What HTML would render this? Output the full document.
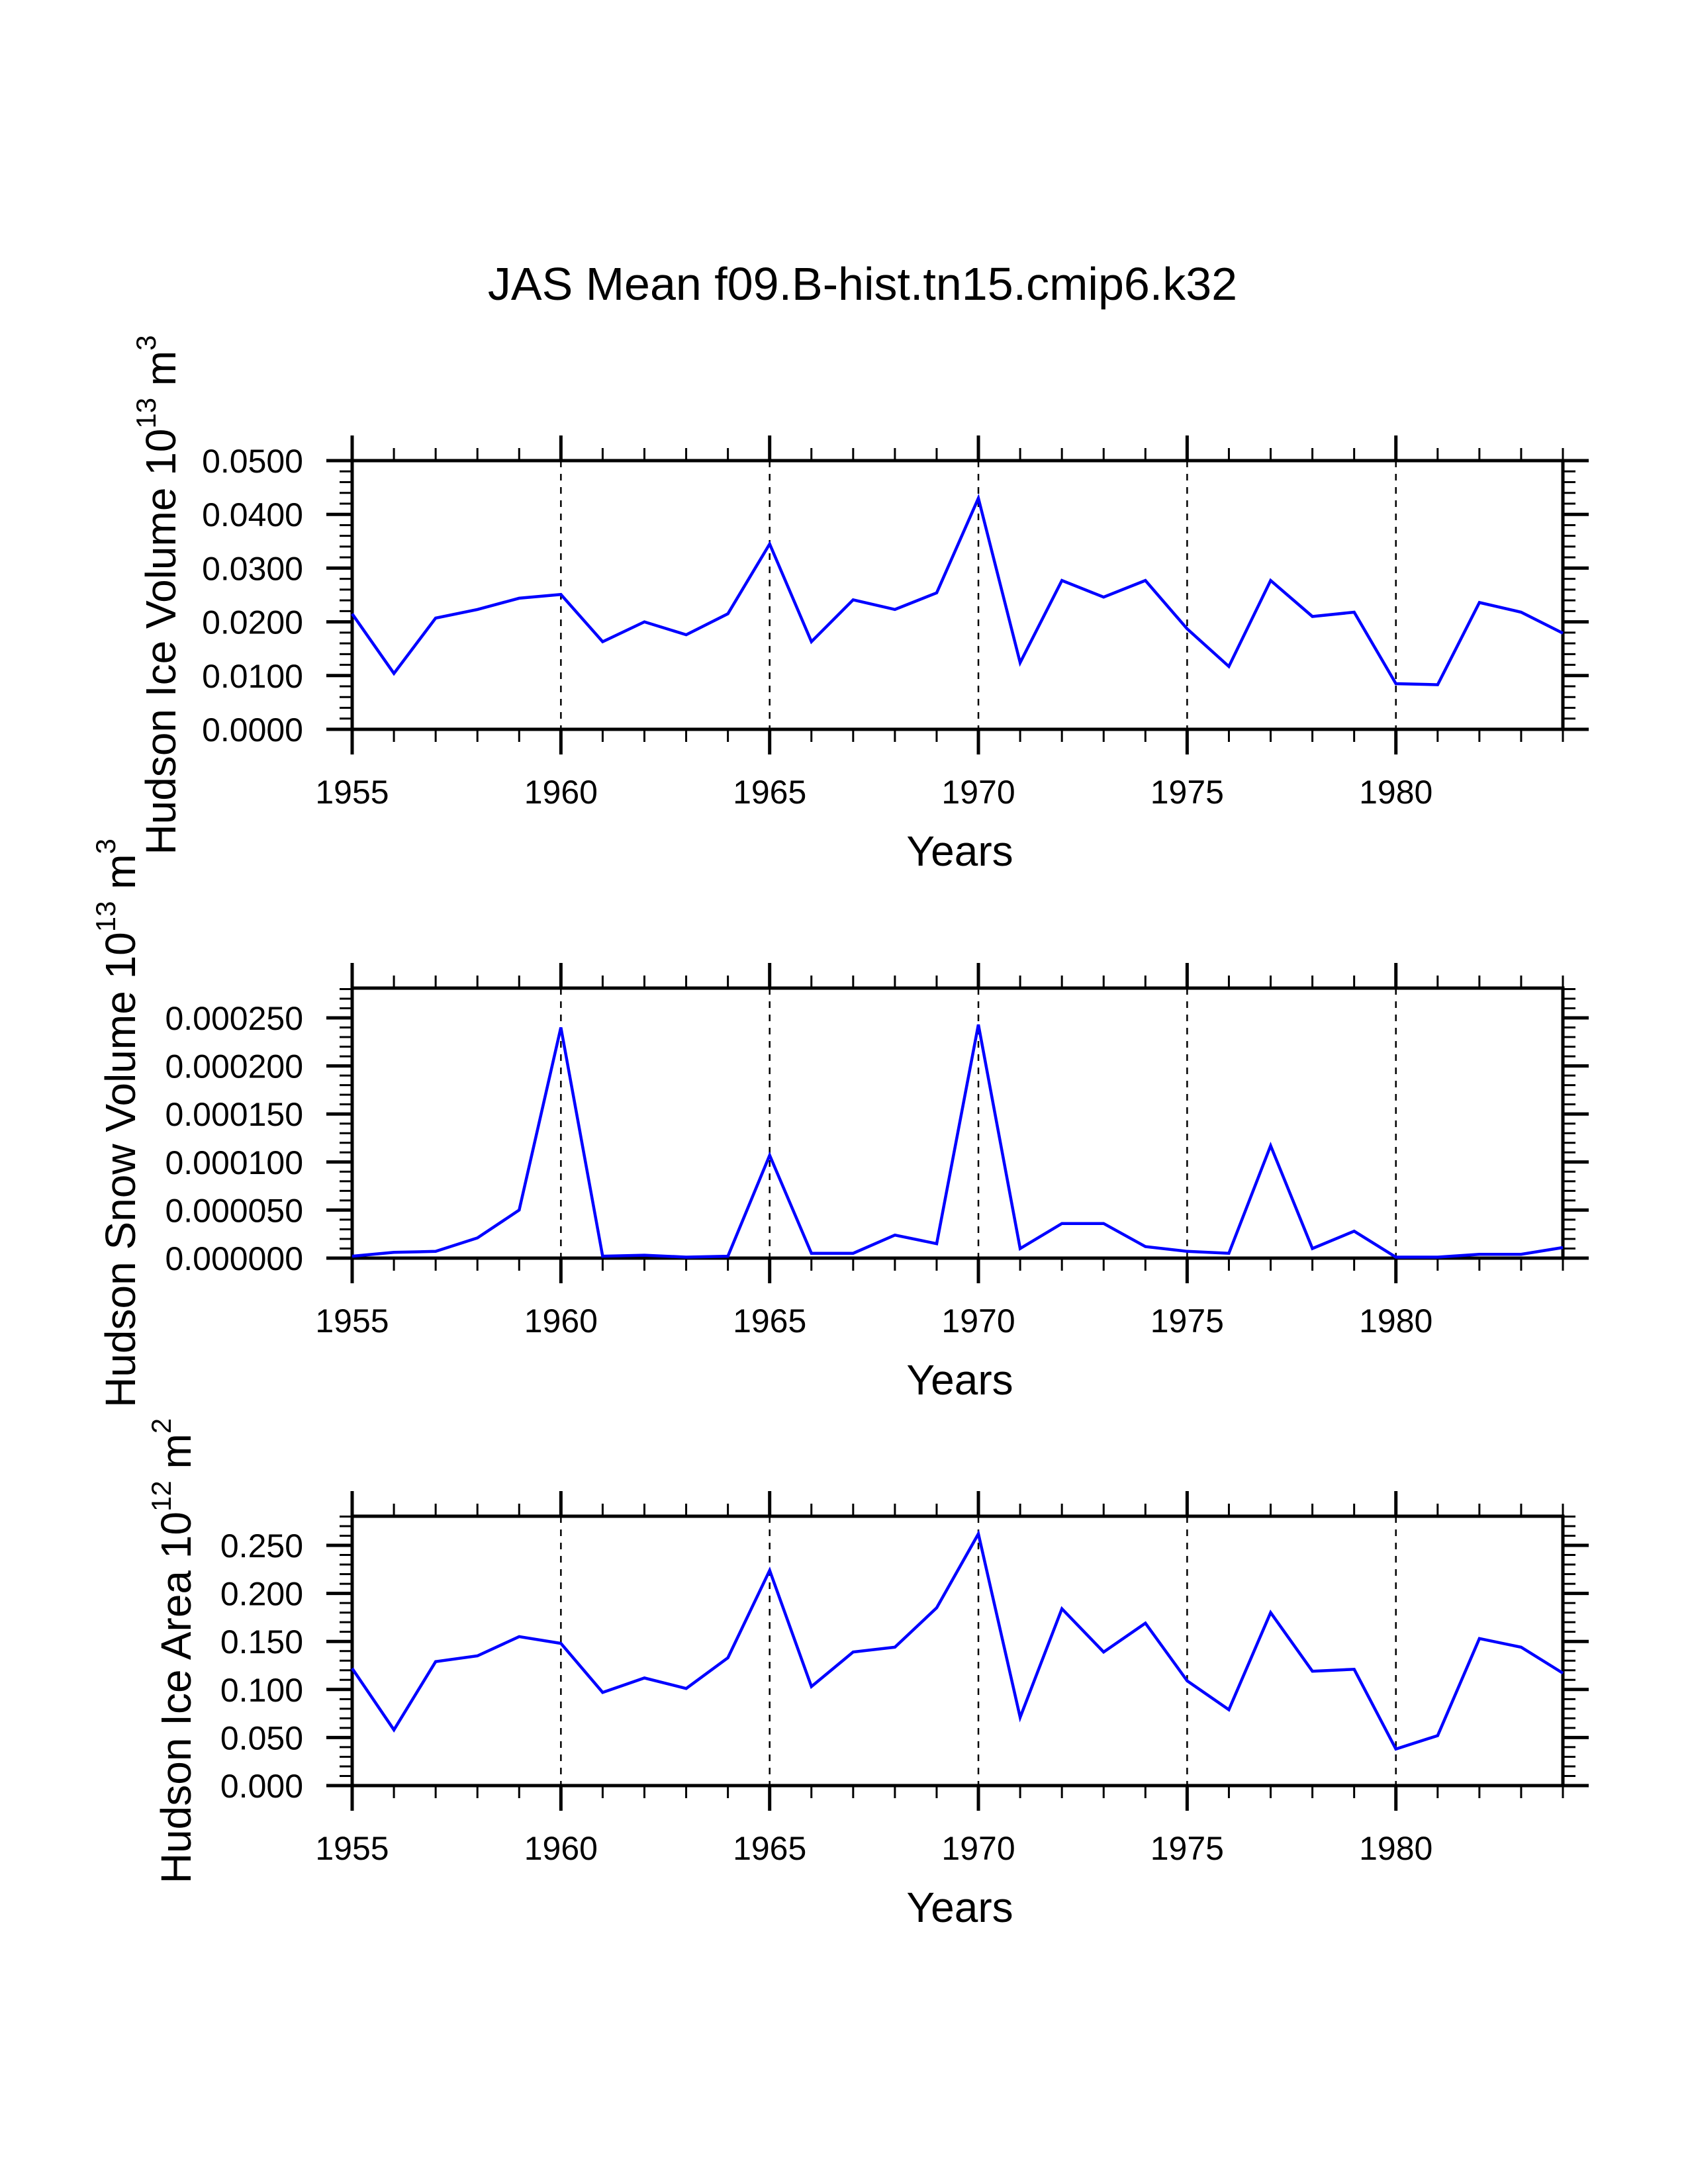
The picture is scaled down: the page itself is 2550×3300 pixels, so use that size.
<!DOCTYPE html>
<html><head><meta charset="utf-8"><style>
html,body{margin:0;padding:0;background:#fff;}
svg{display:block;font-family:"Liberation Sans",Arial,sans-serif;}
</style></head><body>
<svg id="chart" width="2550" height="3300" viewBox="0 0 2550 3300" xmlns="http://www.w3.org/2000/svg">
<text x="1303" y="453" font-size="70" text-anchor="middle">JAS Mean f09.B-hist.tn15.cmip6.k32</text>
</svg>
<script>
const years = [1955,1956,1957,1958,1959,1960,1961,1962,1963,1964,1965,1966,1967,1968,1969,1970,1971,1972,1973,1974,1975,1976,1977,1978,1979,1980,1981,1982,1983,1984];
const iceVolume = [0.0215,0.0104,0.0207,0.0223,0.0244,0.0251,0.0163,0.0200,0.0176,0.0215,0.0345,0.0163,0.0241,0.0223,0.0254,0.0430,0.0124,0.0277,0.0246,0.0277,0.0187,0.0117,0.0277,0.0210,0.0218,0.0085,0.0083,0.0236,0.0218,0.0179];
const snowVolume = [0.000002,0.000006,0.000007,0.000021,0.000050,0.000240,0.000002,0.000003,0.000001,0.000002,0.000107,0.000005,0.000005,0.000024,0.000015,0.000243,0.000010,0.000036,0.000036,0.000012,0.000007,0.000005,0.000117,0.000010,0.000028,0.000001,0.000001,0.000004,0.000004,0.000011];
const iceArea = [0.122,0.058,0.129,0.135,0.155,0.148,0.097,0.112,0.101,0.133,0.224,0.103,0.139,0.144,0.185,0.262,0.071,0.184,0.139,0.169,0.109,0.079,0.180,0.119,0.121,0.038,0.052,0.153,0.144,0.117];
const xTickLabels = ["1955","1960","1965","1970","1975","1980"];
const iceVolumeTicks = ["0.0000","0.0100","0.0200","0.0300","0.0400","0.0500"];
const snowVolumeTicks = ["0.000000","0.000050","0.000100","0.000150","0.000200","0.000250"];
const iceAreaTicks = ["0.000","0.050","0.100","0.150","0.200","0.250"];

const NS="http://www.w3.org/2000/svg";
const svg=document.getElementById('chart');
const X0=532, X1=2361;
function xs(yr){return X0+(yr-1955)/(1984-1955)*(X1-X0);}
function mk(tag,attrs,parent){const e=document.createElementNS(NS,tag);for(const k in attrs)e.setAttribute(k,attrs[k]);(parent||svg).appendChild(e);return e;}

const panels=[
 {name:'ice-volume',top:696,bottom:1102,ymax:0.05,major:0.01,minor:0.002,vals:iceVolume,ticks:iceVolumeTicks,title:'Hudson Ice Volume 10',sup:'13',unit:' m',usup:'3',tx:265},
 {name:'snow-volume',top:1493,bottom:1901,ymax:0.00025*408/363,major:0.00005,minor:0.00001,vals:snowVolume,ticks:snowVolumeTicks,title:'Hudson Snow Volume 10',sup:'13',unit:' m',usup:'3',tx:204},
 {name:'ice-area',top:2291,bottom:2698,ymax:0.25*407/363,major:0.05,minor:0.01,vals:iceArea,ticks:iceAreaTicks,title:'Hudson Ice Area 10',sup:'12',unit:' m',usup:'2',tx:288}
];

panels.forEach(p=>{
  const g=mk('g',{});
  
  
  const ys=v=>p.bottom-v/p.ymax*(p.bottom-p.top);
  [1960,1965,1970,1975,1980].forEach(yr=>{
    const l=mk('line',{x1:xs(yr),x2:xs(yr),y1:p.top,y2:p.bottom,stroke:'#000','stroke-width':2.5,'stroke-dasharray':'10 10'},g);
    
    
  });
  for(let yr=1955;yr<=1984;yr++){
    const maj=(yr%5===0);
    const len=maj?38:19, w=maj?5:3;
    mk('line',{x1:xs(yr),x2:xs(yr),y1:p.bottom,y2:p.bottom+len,stroke:'#000','stroke-width':w},g);
    mk('line',{x1:xs(yr),x2:xs(yr),y1:p.top,y2:p.top-len,stroke:'#000','stroke-width':w},g);
  }
  const nMin=Math.round(p.ymax/p.minor+1e-6);
  for(let i=0;i<=nMin;i++){
    const v=i*p.minor; const y=ys(v);
    const maj=(i%5===0); const len=maj?39:19, w=maj?5:3;
    mk('line',{x1:X0,x2:X0-len,y1:y,y2:y,stroke:'#000','stroke-width':w},g);
    mk('line',{x1:X1,x2:X1+len,y1:y,y2:y,stroke:'#000','stroke-width':w},g);
  }
  p.ticks.forEach((t,i)=>{
    const tx=mk('text',{x:458,y:ys(i*p.major)+18,'font-size':50,'text-anchor':'end'},g);
    tx.textContent=t;
    
    
  });
  xTickLabels.forEach(t=>{
    const tx=mk('text',{x:xs(+t),y:p.bottom+112,'font-size':50,'text-anchor':'middle'},g);
    tx.textContent=t;
    
    
  });
  const fr=mk('rect',{x:X0,y:p.top,width:X1-X0,height:p.bottom-p.top,fill:'none',stroke:'#000','stroke-width':5},g);
  
  
  const pts=years.map((yr,i)=>xs(yr).toFixed(1)+','+ys(p.vals[i]).toFixed(1)).join(' ');
  const pl=mk('polyline',{points:pts,fill:'none',stroke:'#0000ff','stroke-width':4.5,'stroke-linejoin':'miter'},g);
  
  
  const xt=mk('text',{x:1450,y:p.bottom+206,'font-size':64,'text-anchor':'middle'},g);
  xt.textContent='Years';
  
  
  const cy=(p.top+p.bottom)/2;
  const yt=mk('text',{x:0,y:0,'font-size':64,'text-anchor':'middle',transform:'translate('+p.tx+','+cy+') rotate(-90)'},g);
  
  
  const a=mk('tspan',{},yt); a.textContent=p.title;
  const b=mk('tspan',{'font-size':42,dy:-30},yt); b.textContent=p.sup;
  const c=mk('tspan',{dy:30},yt); c.textContent=p.unit;
  const d=mk('tspan',{'font-size':42,dy:-30},yt); d.textContent=p.usup;
});
</script>
</body></html>
